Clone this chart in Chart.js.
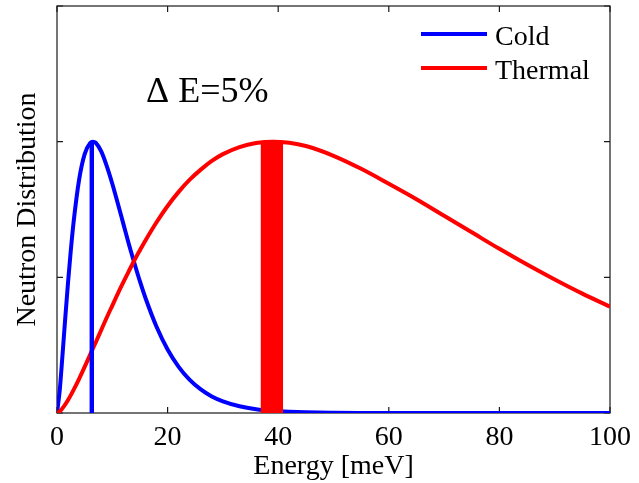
<!DOCTYPE html>
<html>
<head>
<meta charset="utf-8">
<script src="https://cdn.jsdelivr.net/npm/chart.js@4.4.1/dist/chart.umd.min.js"></script>
<style>
  html, body { margin: 0; padding: 0; background: #ffffff; }
  #wrap { width: 639px; height: 483px; }
</style>
</head>
<body>
<div id="wrap"><canvas id="chart" width="639" height="483"></canvas></div>
<script>
// Neutron energy spectra (peak-normalised), energy in meV
const energy = [0, 0.5, 1, 1.5, 2, 2.5, 3, 4, 5, 6, 6.5, 7, 8, 9, 10, 11, 12, 13, 14, 15, 16,
                18, 20, 22, 24, 26, 28, 30, 33, 36, 39, 42, 45, 50, 55, 60, 65, 70, 75, 80, 85, 90, 95, 100];
const coldFlux = [0, 0.085, 0.215, 0.352, 0.482, 0.600, 0.703, 0.860, 0.954, 0.995, 1.000, 0.996, 0.964, 0.910, 0.845, 0.772, 0.697, 0.622, 0.552, 0.485, 0.424,
                  0.318, 0.234, 0.170, 0.122, 0.087, 0.061, 0.043, 0.025, 0.014, 0.008, 0.0045, 0.0025, 0.001, 0.0003, 0, 0, 0, 0, 0, 0, 0, 0, 0];
const thermalFlux = [0, 0.006, 0.018, 0.032, 0.048, 0.066, 0.085, 0.126, 0.170, 0.215, 0.238, 0.260, 0.306, 0.352, 0.396, 0.440, 0.482, 0.523, 0.563, 0.600, 0.636,
                     0.703, 0.763, 0.815, 0.860, 0.897, 0.929, 0.954, 0.980, 0.995, 1.000, 0.996, 0.984, 0.948, 0.900, 0.845, 0.788, 0.727, 0.666, 0.605, 0.547, 0.492, 0.440, 0.392];

// ±5 % energy windows selected around each peak
const coldWindow = [5.85, 6.7];
const thermalWindow = [36.8, 40.9];
const windowHeight = 1.0;

const seriesNames = ['Cold', 'Thermal'];
const xTickValues = [0, 20, 40, 60, 80, 100];
const yTickValues = [0, 0.5, 1, 1.5];
const resolutionLabel = 'Δ E=5%';

const BLUE = '#0000ff';
const RED = '#ff0000';
const INK = '#1a1a1a';
const SERIF = '"Liberation Serif", "Times New Roman", serif';

const toPoints = (xs, ys) => xs.map((x, i) => ({ x, y: ys[i] }));
const windowPoints = (w) => [{ x: w[0], y: windowHeight }, { x: w[1], y: windowHeight }];

// Box frame, inward tick marks, in-axes legend and the resolution label
const matlabAxes = {
  id: 'matlabAxes',
  beforeDatasetsDraw(chart) {
    const { ctx, chartArea: a, scales: { x, y } } = chart;
    const tick = 6;
    ctx.save();
    ctx.strokeStyle = INK;
    ctx.lineWidth = 1.2;
    ctx.strokeRect(a.left, a.top, a.right - a.left, a.bottom - a.top);
    ctx.beginPath();
    xTickValues.forEach(v => {
      const px = x.getPixelForValue(v);
      ctx.moveTo(px, a.bottom); ctx.lineTo(px, a.bottom - tick);
      ctx.moveTo(px, a.top); ctx.lineTo(px, a.top + tick);
    });
    yTickValues.forEach(v => {
      const py = y.getPixelForValue(v);
      ctx.moveTo(a.left, py); ctx.lineTo(a.left + tick, py);
      ctx.moveTo(a.right, py); ctx.lineTo(a.right - tick, py);
    });
    ctx.stroke();
    ctx.restore();
  },
  afterDatasetsDraw(chart, args, opts) {
    const { ctx, chartArea: a, scales: { x, y } } = chart;
    ctx.save();
    // legend, in series order
    const entries = seriesNames.map(n => chart.data.datasets.find(d => d.label === n));
    ctx.font = '28px ' + SERIF;
    ctx.textBaseline = 'alphabetic';
    ctx.textAlign = 'left';
    entries.forEach((d, i) => {
      const ly = a.top + 28 + i * 34;
      ctx.strokeStyle = d.borderColor;
      ctx.lineWidth = 4;
      ctx.beginPath();
      ctx.moveTo(a.right - 189, ly);
      ctx.lineTo(a.right - 123, ly);
      ctx.stroke();
      ctx.fillStyle = '#000';
      ctx.fillText(d.label, a.right - 115, ly + 11);
    });
    // resolution label
    ctx.font = '36px ' + SERIF;
    ctx.fillStyle = '#000';
    ctx.fillText(resolutionLabel, x.getPixelForValue(opts.labelAt[0]), y.getPixelForValue(opts.labelAt[1]));
    ctx.restore();
  }
};

new Chart(document.getElementById('chart'), {
  type: 'line',
  data: {
    datasets: [
      { label: 'thermal window', data: windowPoints(thermalWindow), borderWidth: 0, backgroundColor: RED,
        fill: 'origin', pointRadius: 0, order: 0 },
      { label: 'cold window', data: windowPoints(coldWindow), borderWidth: 0, backgroundColor: BLUE,
        fill: 'origin', pointRadius: 0, order: 1 },
      { label: seriesNames[1], data: toPoints(energy, thermalFlux), borderColor: RED, borderWidth: 4,
        pointRadius: 0, fill: false, cubicInterpolationMode: 'monotone', order: 2 },
      { label: seriesNames[0], data: toPoints(energy, coldFlux), borderColor: BLUE, borderWidth: 4,
        pointRadius: 0, fill: false, cubicInterpolationMode: 'monotone', order: 3 }
    ]
  },
  options: {
    responsive: false,
    animation: false,
    layout: { padding: { top: 6, right: 28, left: 0, bottom: 0 } },
    plugins: {
      legend: { display: false },
      tooltip: { enabled: false },
      matlabAxes: { labelAt: [16.1, 1.148] }
    },
    scales: {
      x: {
        type: 'linear', min: 0, max: 100,
        afterBuildTicks: s => { s.ticks = xTickValues.map(v => ({ value: v })); },
        ticks: { font: { family: SERIF, size: 28 }, color: '#000', padding: 8, maxRotation: 0, autoSkip: false },
        grid: { display: false, drawTicks: false },
        border: { display: false },
        title: { display: true, text: 'Energy [meV]', color: '#000', font: { family: SERIF, size: 28 },
                 padding: { top: 0, bottom: 0 } },
        afterFit: s => { s.height = 70; }
      },
      y: {
        type: 'linear', min: 0, max: 1.5,
        afterBuildTicks: s => { s.ticks = yTickValues.map(v => ({ value: v })); },
        ticks: { display: false },
        grid: { display: false, drawTicks: false },
        border: { display: false },
        title: { display: true, text: 'Neutron Distribution', color: '#000', font: { family: SERIF, size: 28 },
                 padding: { top: 11, bottom: 0 } },
        afterFit: s => { s.width = 57; }
      }
    }
  },
  plugins: [matlabAxes]
});
</script>
</body>
</html>
